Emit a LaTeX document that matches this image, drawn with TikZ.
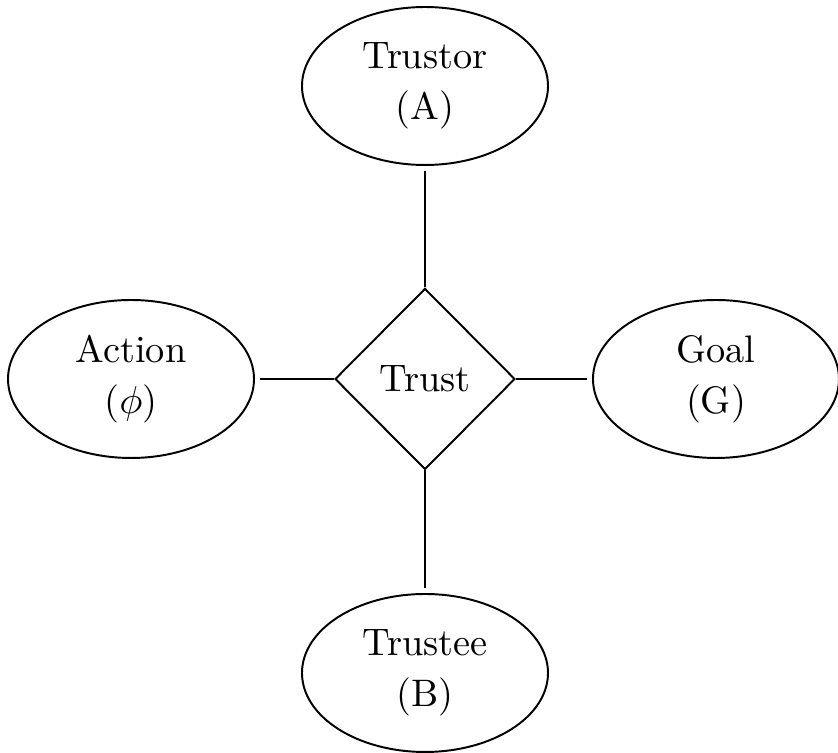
\documentclass[tikz,border=0pt]{standalone}
\usetikzlibrary{shapes.geometric}
\begin{document}
\begin{tikzpicture}[x=0.2817pt,y=-0.2817pt,line width=0.55pt,
  ent/.style={draw,ellipse,minimum width=69.3pt,minimum height=44.5pt,inner sep=0pt,align=center,font=\fontsize{10.8}{14.3}\selectfont},
  rel/.style={draw,diamond,minimum width=50.7pt,minimum height=51pt,inner sep=0pt,font=\fontsize{10.8}{13}\selectfont},
  link/.style={shorten >=1.3pt}]
\useasboundingbox (0,0) rectangle (838,753);
\node[rel] (trust) at (425,379) {Trust};
\node[ent] (trustor) at (425,86) {Trustor\\(A)};
\node[ent] (trustee) at (425,673) {Trustee\\(B)};
\node[ent] (action) at (131,379) {Action\\($\phi$)};
\node[ent] (goal) at (716,379) {Goal\\(G)};
\draw[link] (trust.north) -- (trustor);
\draw[link] (trust.south) -- (trustee);
\draw[link] (trust.west) -- (action);
\draw[link] (trust.east) -- (goal);
\end{tikzpicture}
\end{document}
